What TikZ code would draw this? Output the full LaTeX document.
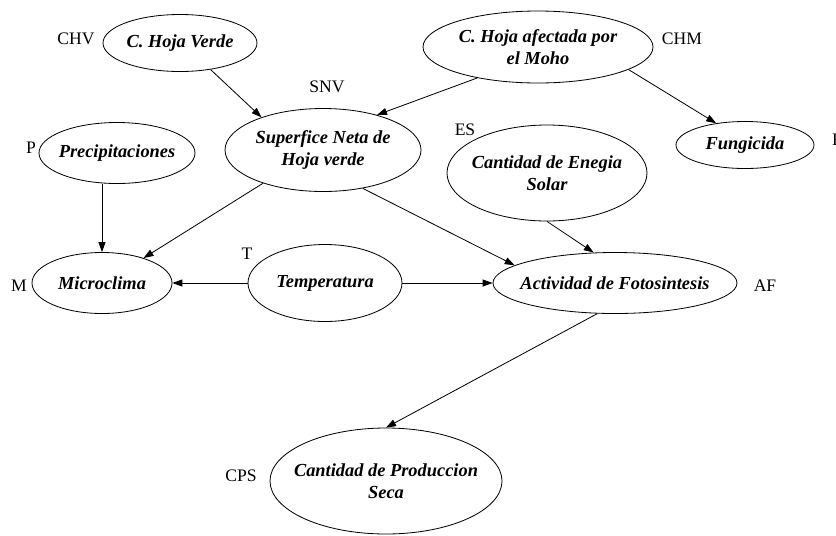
\documentclass[tikz,border=0pt]{standalone}
\usepackage{fontspec}
\setmainfont{Liberation Serif}
\usetikzlibrary{arrows.meta, shapes.geometric}
\tikzset{
  var/.style={ellipse, draw=black, line width=0.7pt, inner sep=-40pt,
    font=\fontsize{15.7}{18.7}\selectfont\bfseries\itshape, align=center},
  varlabel/.style={inner sep=0pt, font=\fontsize{15}{18}\selectfont},
  link/.style={-{Triangle[length=8.5pt, width=6pt]}, line width=0.7pt}
}

\begin{document}
\begin{tikzpicture}[x=0.3mm, y=-0.3mm]
\useasboundingbox (0,0) rectangle (836,535);

%% Variables
\node[var, minimum width=46.2mm, minimum height=17.1mm] (chv) at (180, 43) {C. Hoja Verde};
\node[var, minimum width=69mm,   minimum height=21.6mm] (chm) at (538, 47) {C. Hoja afectada por\\el Moho};
\node[var, minimum width=58.8mm, minimum height=24.9mm] (snv) at (323,150) {Superfice Neta de\\Hoja verde};
\node[var, minimum width=46.8mm, minimum height=18.3mm] (p)   at (117,153) {Precipitaciones};
\node[var, minimum width=41.4mm, minimum height=14.1mm] (f)   at (745,145) {Fungicida};
\node[var, minimum width=60mm,   minimum height=28.8mm] (es)  at (547,173) {Cantidad de Enegia\\Solar};
\node[var, minimum width=42mm,   minimum height=18.3mm] (m)   at (102,283) {Microclima};
\node[var, minimum width=46.2mm, minimum height=23.1mm] (t)   at (325,283) {Temperatura};
\node[var, minimum width=73.2mm, minimum height=18.3mm] (af)  at (615,283) {Actividad de Fotosintesis};
\node[var, minimum width=69.6mm, minimum height=31.8mm] (cps) at (386,481) {Cantidad de Produccion\\Seca};

%% Short names
\node[varlabel] (lchv) at ( 76, 39) {CHV};
\node[varlabel] (lchm) at (682, 39) {CHM};
\node[varlabel] (lsnv) at (327, 87) {SNV};
\node[varlabel] (lp)   at ( 31,148) {P};
\node[varlabel] (lf)   at (837,140) {F};
\node[varlabel] (les)  at (465,130) {ES};
\node[varlabel] (lm)   at ( 19,286) {M};
\node[varlabel] (lt)   at (247,254) {T};
\node[varlabel] (laf)  at (765,286) {AF};
\node[varlabel] (lcps) at (241,476) {CPS};

%% Links
\draw[link] (chv.-41) -- (snv.152);
\draw[link] (chm.207) -- (snv.33);
\draw[link] (chm.-14) -- (f.143);
\draw[link] (m.north |- p.south) -- (m.north);
\draw[link] (snv.209) -- (m.31);
\draw[link] (snv.-44) -- (af.170);
\draw[link] (es.south) -- (af.125);
\draw[link] (t.west) -- (m.east);
\draw[link] (t.east) -- (af.west);
\draw[link] (af.240) -- (cps.north);

\end{tikzpicture}
\end{document}
